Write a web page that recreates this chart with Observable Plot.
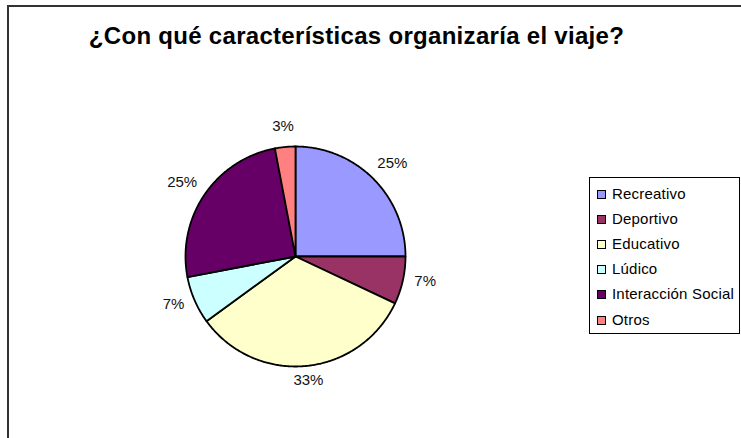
<!DOCTYPE html>
<html><head><meta charset="utf-8">
<script src="https://cdn.jsdelivr.net/npm/d3@7"></script>
<script src="https://cdn.jsdelivr.net/npm/@observablehq/plot@0.6"></script>
<style>
html,body{margin:0;padding:0;background:#fff;overflow:hidden;width:741px;height:438px}
#wrap{position:relative;width:741px;height:438px;font-family:"Liberation Sans",Arial,sans-serif;overflow:hidden}
#frame{position:absolute;left:7px;top:5px;width:800px;height:500px;border:2px solid #333;box-sizing:border-box}
#title{position:absolute;left:0;top:22px;width:713px;text-align:center;font-weight:bold;font-size:24px;line-height:28px;letter-spacing:0.3px;color:#000;white-space:nowrap}
#chart{position:absolute;left:0;top:0}
#legend{position:absolute;left:589px;top:177px;width:151px;height:157px;border:1px solid #000;box-sizing:border-box;background:#fff}
.item{position:absolute;left:7px;height:18px;line-height:18px;font-size:15px;letter-spacing:0.2px;color:#000;white-space:nowrap}
.sw{position:absolute;left:0;top:5px;width:7px;height:7px;border:1px solid #000}
.lb{position:absolute;left:15px;top:0}
</style>
</head><body>
<div id="wrap">
  <div id="frame"></div>
  <div id="chart"></div>
  <div id="title">¿Con qué características organizaría el viaje?</div>
  <div id="legend"></div>
</div>
<script>
const categories = ["Recreativo","Deportivo","Educativo","Lúdico","Interacción Social","Otros"];
const values = [25, 7, 33, 7, 25, 3];
const colors = ["#9999FF","#993366","#FFFFCC","#CCFFFF","#660066","#FF8080"];
const labels = ["25%","7%","33%","7%","25%","3%"];

const cx = 295, cy = 256, r = 110;
const total = d3.sum(values);

// slice polygons in unit-circle coordinates (angle measured clockwise from top)
let acc = 0;
const slices = categories.map((c, i) => {
  const a0 = acc / total * 2 * Math.PI;
  acc += values[i];
  const a1 = acc / total * 2 * Math.PI;
  return {c, a0, a1, label: labels[i]};
});
const pts = [];
slices.forEach(s => {
  pts.push({c: s.c, x: 0, y: 0});
  const n = Math.max(2, Math.ceil((s.a1 - s.a0) / 0.01));
  for (let k = 0; k <= n; k++) {
    const t = s.a0 + (s.a1 - s.a0) * k / n;
    pts.push({c: s.c, x: Math.sin(t), y: Math.cos(t)});
  }
  pts.push({c: s.c, x: 0, y: 0});
});

// label anchors outside the rim
const fs = 15, h = 11;
const labelPts = slices.map(s => {
  const m = (s.a0 + s.a1) / 2;
  const w = s.label.replace("%", "").length * 0.556 * fs + 0.889 * fs;
  const R = r + 12;
  return {
    text: s.label,
    x: Math.sin(m) * (R + w / 2) / r,
    y: Math.cos(m) * (R + h / 2) / r
  };
});

const chart = Plot.plot({
  width: 741, height: 438, margin: 0,
  style: {fontFamily: "'Liberation Sans', Arial, sans-serif", background: "transparent"},
  x: {domain: [-1, 1], range: [cx - r, cx + r], axis: null},
  y: {domain: [-1, 1], range: [cy + r, cy - r], axis: null},
  color: {domain: categories, range: colors},
  marks: [
    Plot.line(pts, {x: "x", y: "y", z: "c", fill: "c", stroke: "#000", strokeWidth: 1.8, strokeLinejoin: "round"}),
    Plot.text(labelPts, {x: "x", y: "y", text: "text", fontSize: fs, fill: "#111", textAnchor: "middle", lineAnchor: "middle", dy: -3})
  ]
});
document.getElementById("chart").appendChild(chart);

// legend
const leg = document.getElementById("legend");
categories.forEach((c, i) => {
  const it = document.createElement("div");
  it.className = "item";
  it.style.top = (6.5 + i * 25.2) + "px";
  const sw = document.createElement("div");
  sw.className = "sw";
  sw.style.background = colors[i];
  const lb = document.createElement("span");
  lb.className = "lb";
  lb.textContent = c;
  it.appendChild(sw); it.appendChild(lb);
  leg.appendChild(it);
});
</script>
</body></html>
